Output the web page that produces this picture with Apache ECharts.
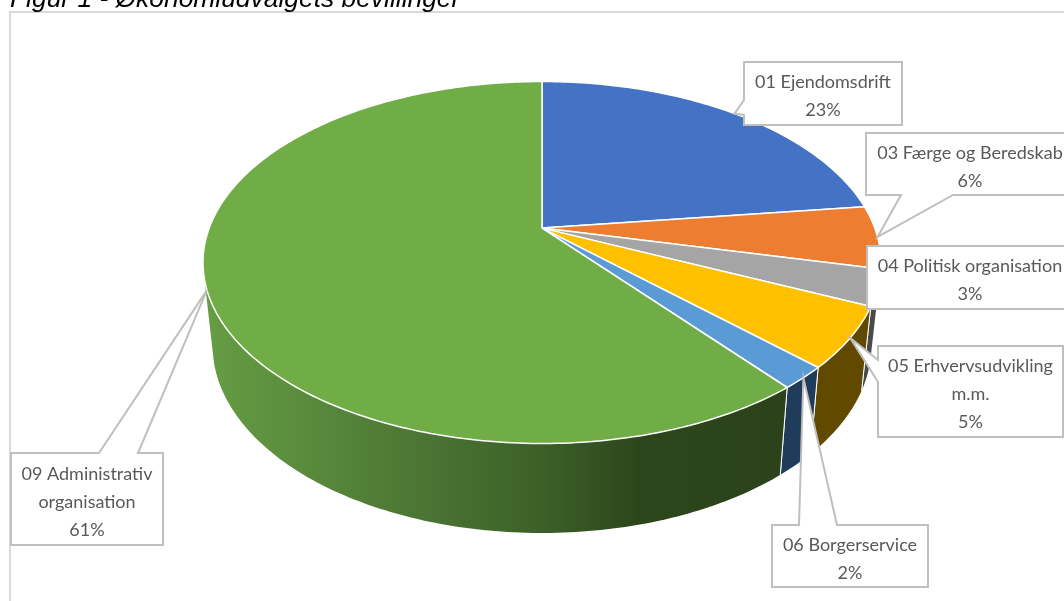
<!DOCTYPE html>
<html><head><meta charset="utf-8">
<style>html,body{margin:0;padding:0;background:#fff;overflow:hidden}#c{width:1064px;height:601px}</style>
<script src="https://cdn.jsdelivr.net/npm/echarts@6/dist/echarts.min.js"></script>
</head><body><div id="c"></div>
<script>
const titleText = 'Figur 1 - Økonomiudvalgets bevillinger';
const names = [['01 Ejendomsdrift'], ['03 Færge og Beredskab'], ['04 Politisk organisation'], ['05 Erhvervsudvikling', 'm.m.'], ['06 Borgerservice'], ['09 Administrativ', 'organisation']];
const values = [23, 5.6, 3.2, 5.4, 2, 60.8];
const topColors = ['#4472c4', '#ed7d31', '#a5a5a5', '#ffc000', '#5b9bd5', '#70ad47'];
const sideColors = ['#2a4578', '#8e4b1d', '#4a4a4a', '#614a00', '#1f3d5a', null];

// view geometry (perspective pie)
const topE = {cx: 542, cy: 262.5, rx: 339, ry: 181};
const botE = {cx: 542, cy: 345, rx: 329.5, ry: 188};
const K = -0.19;
const VISIBLE = [29.5, 70.5];
// callout layout: box [x0,y0,x1,y1], wedge side and its two anchors along that side
const boxes = [
  {b: [744, 62, 902, 125], side: 'left', w: [100, 115]},
  {b: [866, 133, 1080, 195], side: 'bottom', w: [901, 953]},
  {b: [867, 246, 1080, 309], side: null},
  {b: [878, 346, 1063, 437], side: 'left', w: [360, 382]},
  {b: [772, 525, 928, 587], side: 'top', w: [799, 837]},
  {b: [11, 453, 163, 545], side: 'top', w: [99, 138]}
];
const total = values.reduce((a, b) => a + b, 0);
const cum = [0];
values.forEach((v, i) => cum.push(cum[i] + v));

function pt(e, share) {
  const a = share / total * 2 * Math.PI, x = Math.sin(a), y = -Math.cos(a);
  const d = 1 + K * y;
  return [e.cx + e.rx * x * Math.sqrt(1 - K * K) / d, e.cy + e.ry * (y + K) / d];
}
function arc(e, s0, s1) {
  const n = Math.max(2, Math.ceil((s1 - s0) * 4)), out = [];
  for (let i = 0; i <= n; i++) out.push(pt(e, s0 + (s1 - s0) * i / n));
  return out;
}
function hull(points) {
  const p = points.slice().sort((a, b) => a[0] - b[0] || a[1] - b[1]);
  const cross = (o, a, b) => (a[0] - o[0]) * (b[1] - o[1]) - (a[1] - o[1]) * (b[0] - o[0]);
  const lo = [], up = [];
  p.forEach(q => { while (lo.length > 1 && cross(lo[lo.length - 2], lo[lo.length - 1], q) <= 0) lo.pop(); lo.push(q); });
  p.slice().reverse().forEach(q => { while (up.length > 1 && cross(up[up.length - 2], up[up.length - 1], q) <= 0) up.pop(); up.push(q); });
  return lo.slice(0, -1).concat(up.slice(0, -1));
}
const lineStyle = {stroke: '#bfbfbf', lineWidth: 2, fill: '#fff'};
const greenSide = {type: 'linear', x: 205, y: 0, x2: 785, y2: 0, global: true, colorStops: [
  {offset: 0, color: '#669d44'}, {offset: 0.2, color: '#57883b'}, {offset: 0.4, color: '#4a7233'}, {offset: 0.58, color: '#3c6028'}, {offset: 0.75, color: '#2c461b'}, {offset: 1, color: '#2b421a'}]};

const data = values.map((v, i) => [i, v]);
const chart = echarts.init(document.getElementById('c'), null, {renderer: 'canvas'});
chart.setOption({
  animation: false,
  backgroundColor: '#fff',
  tooltip: {show: false},
  title: {text: titleText, left: 5, top: -18, textStyle: {fontFamily: 'Liberation Sans', fontStyle: 'italic', fontWeight: 'normal', fontSize: 26.4, color: '#000'}},
  graphic: [{type: 'rect', z: 0, silent: true, shape: {x: 10, y: 12, width: 1100, height: 700}, style: {fill: '#fff', stroke: '#d9d9d9', lineWidth: 2}}],
  series: [
    {type: 'custom', name: 'side', z: 2, coordinateSystem: 'none', silent: true, data: data,
     renderItem(p, api) {
       const i = api.value(0), s0 = cum[i], s1 = s0 + api.value(1);
       const from = Math.max(s0, VISIBLE[0]), to = Math.min(s1, VISIBLE[1]);
       if (to <= from) return;
       const a = arc(topE, from, to), b = arc(botE, from, to);
       const children = [{type: 'polygon', shape: {points: hull(a.concat(b))}, style: {fill: sideColors[i] || greenSide}}];
       if (from === s0) children.push({type: 'polyline', shape: {points: [a[0], b[0]]}, style: {fill: null, stroke: '#fff', lineWidth: 1}});
       if (to === s1) children.push({type: 'polyline', shape: {points: [a[a.length - 1], b[b.length - 1]]}, style: {fill: null, stroke: '#fff', lineWidth: 1}});
       return {type: 'group', children: children};
     }},
    {type: 'custom', name: 'top', z: 3, coordinateSystem: 'none', silent: true, data: data,
     renderItem(p, api) {
       const i = api.value(0), s0 = cum[i], s1 = s0 + api.value(1);
       const apex = [topE.cx, topE.cy + topE.ry * K];
       return {type: 'polygon', shape: {points: [apex].concat(arc(topE, s0, s1))}, style: {fill: topColors[i], stroke: '#fff', lineWidth: 1.5, lineJoin: 'round'}};
     }},
    {type: 'custom', name: 'labels', z: 4, coordinateSystem: 'none', silent: true, data: data,
     renderItem(p, api) {
       const i = api.value(0), s0 = cum[i], v = api.value(1);
       const c = boxes[i], [x0, y0, x1, y1] = c.b, tip = pt(topE, s0 + v / 2);
       let poly;
       if (c.side === 'left') poly = [[x0, y0], [x1, y0], [x1, y1], [x0, y1], [x0, c.w[1]], tip, [x0, c.w[0]]];
       else if (c.side === 'top') poly = [[x0, y0], [c.w[0], y0], tip, [c.w[1], y0], [x1, y0], [x1, y1], [x0, y1]];
       else if (c.side === 'bottom') poly = [[x0, y0], [x1, y0], [x1, y1], [c.w[1], y1], tip, [c.w[0], y1], [x0, y1]];
       else poly = [[x0, y0], [x1, y0], [x1, y1], [x0, y1]];
       const lines = names[i].concat([Math.round(v / total * 100) + '%']);
       const tx = (i === 1 || i === 2) ? 970 : (x0 + x1) / 2;
       const ty = (y0 + y1) / 2;
       return {type: 'group', children: [
         {type: 'polygon', shape: {points: poly}, style: lineStyle},
         {type: 'text', x: tx, y: ty + 3, style: {text: lines.join('\n'), x: 0, y: 0, align: 'center', verticalAlign: 'middle', fontFamily: 'Lato', fontSize: 18, lineHeight: 28, fill: '#595959'}}
       ]};
     }}
  ]
});
</script></body></html>
